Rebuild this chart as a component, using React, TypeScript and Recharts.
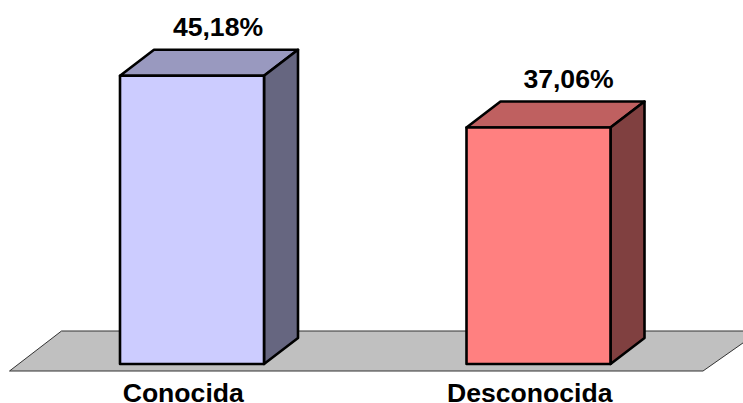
import { Bar, BarChart, Customized, LabelList, XAxis, YAxis } from "recharts";

const categories = ["Conocida", "Desconocida"];
const values = [45.18, 37.06];

const frontColors = ["#CCCCFF", "#FF8080"];
const topColors = ["#9999BF", "#BF6060"];
const sideColors = ["#666680", "#804040"];
const labelShifts = [26, 30];

const FONT = "'Liberation Sans', Arial, sans-serif";
const DEPTH_X = 34;
const DEPTH_Y = 26;

const data = categories.map((name, i) => ({ name, value: values[i] }));

// grey floor under the bars, it is only decoration
function Floor() {
  return (
    <polygon
      points="9.5,371 61.5,331 760,331 703,371"
      fill="#C0C0C0"
      stroke="#333333"
      strokeWidth={1}
    />
  );
}

function Box3D({ x, y, width, height, index }: any) {
  const right = x + width;
  const bottom = y + height;
  return (
    <g stroke="#000000" strokeWidth={2.6} strokeLinejoin="round">
      <polygon
        points={`${x},${y} ${x + DEPTH_X},${y - DEPTH_Y} ${right + DEPTH_X},${y - DEPTH_Y} ${right},${y}`}
        fill={topColors[index]}
      />
      <polygon
        points={`${right},${y} ${right + DEPTH_X},${y - DEPTH_Y} ${right + DEPTH_X},${bottom - DEPTH_Y} ${right},${bottom}`}
        fill={sideColors[index]}
      />
      <rect x={x} y={y} width={width} height={height} fill={frontColors[index]} />
    </g>
  );
}

function ValueLabel({ x, y, width, value, index }: any) {
  return (
    <text
      x={x + width / 2 + labelShifts[index]}
      y={y - 40}
      textAnchor="middle"
      fontFamily={FONT}
      fontSize={26.6}
      fontWeight={700}
      fill="#000000"
    >
      {value.toFixed(2).replace(".", ",")}%
    </text>
  );
}

function CategoryTick({ x, y, payload }: any) {
  return (
    <text
      x={x - 9}
      y={y + 30}
      textAnchor="middle"
      fontFamily={FONT}
      fontSize={26.6}
      fontWeight={700}
      fill="#000000"
    >
      {payload.value}
    </text>
  );
}

export default function App() {
  return (
    <div style={{ position: "absolute", left: 0, top: 0, background: "#FFFFFF" }}>
      <BarChart
        width={743}
        height={403}
        data={data}
        margin={{ top: 45, right: 31, bottom: 9, left: 19 }}
      >
        <Customized component={Floor} />
        <XAxis
          dataKey="name"
          height={30}
          axisLine={false}
          tickLine={false}
          interval={0}
          tick={<CategoryTick />}
        />
        <YAxis hide domain={[0, 50]} />
        <Bar
          dataKey="value"
          barSize={144}
          shape={<Box3D />}
          isAnimationActive={false}
        >
          <LabelList dataKey="value" content={<ValueLabel />} />
        </Bar>
      </BarChart>
    </div>
  );
}
